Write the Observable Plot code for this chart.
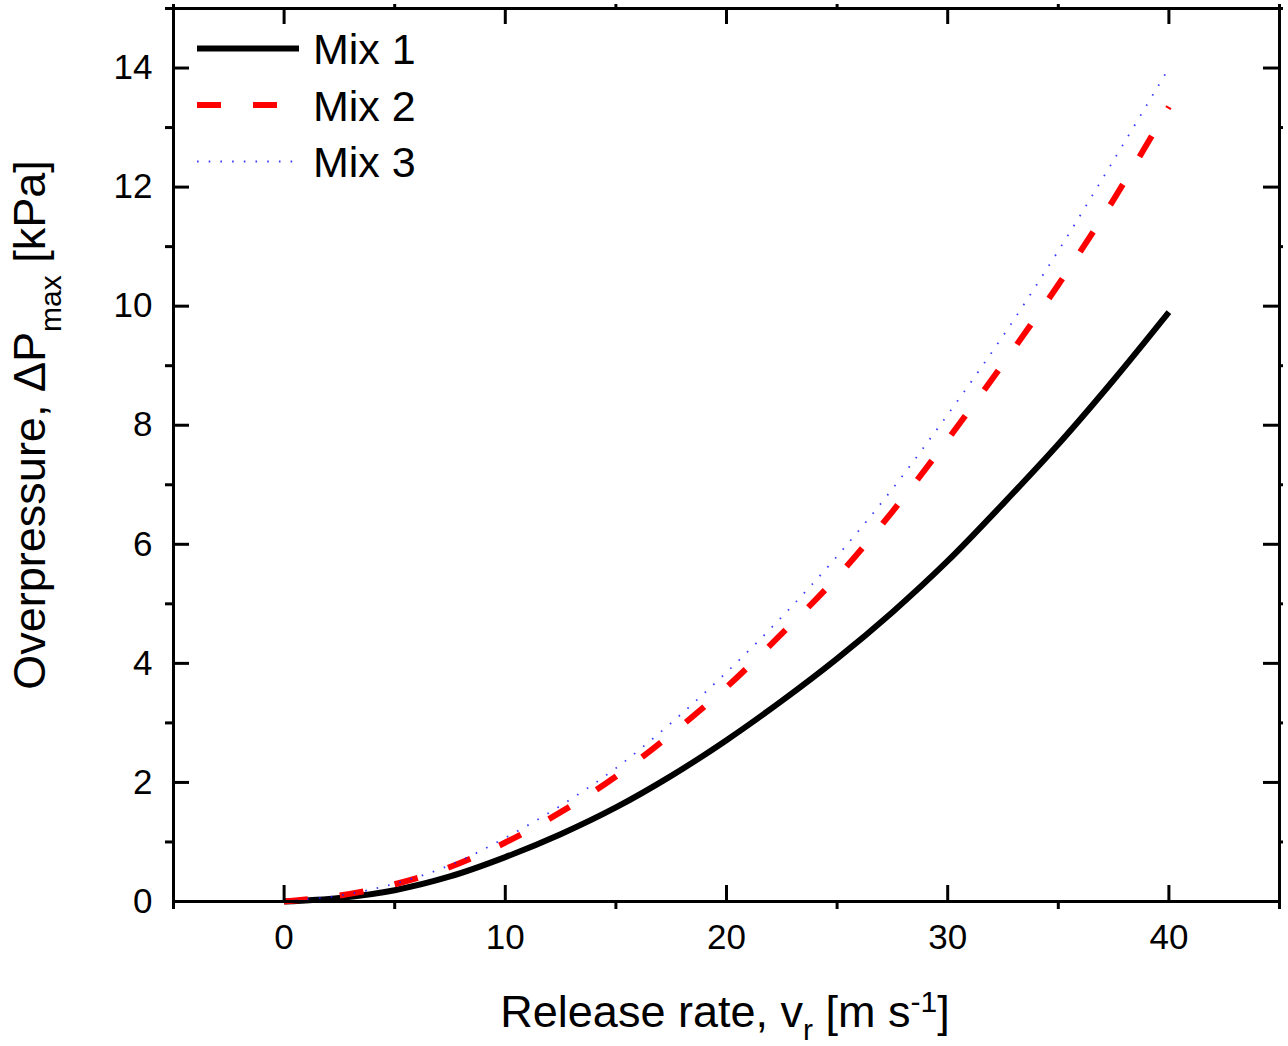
<!DOCTYPE html>
<html>
<head>
<meta charset="utf-8">
<script src="https://cdn.jsdelivr.net/npm/d3@7"></script>
<script src="https://cdn.jsdelivr.net/npm/@observablehq/plot@0.6"></script>
<style>
  html, body { margin: 0; padding: 0; background: #fff; }
  #chart { width: 1288px; height: 1046px; }
</style>
</head>
<body>
<div id="chart"></div>
<script>
// ---- data ----
const releaseRate = [0, 2.5, 5, 7.5, 10, 12.5, 15, 17.5, 20, 22.5, 25, 27.5, 30, 32.5, 35, 37.5, 40];
const mix1 = [0, 0.06, 0.19, 0.42, 0.745, 1.13, 1.58, 2.11, 2.71, 3.37, 4.08, 4.86, 5.72, 6.68, 7.68, 8.76, 9.90];
const mix2 = [0, 0.10, 0.29, 0.58, 0.99, 1.50, 2.10, 2.81, 3.60, 4.50, 5.45, 6.55, 7.76, 9.03, 10.36, 11.79, 13.35];
const mix3 = [0, 0.10, 0.30, 0.61, 1.07, 1.61, 2.24, 3.00, 3.85, 4.78, 5.80, 6.93, 8.18, 9.50, 10.93, 12.45, 14.00];
const seriesNames = ["Mix 1", "Mix 2", "Mix 3"];
const xMajorTicks = [0, 10, 20, 30, 40];
const xMinorTicks = [-5, 5, 15, 25, 35, 45];
const yMajorTicks = [0, 2, 4, 6, 8, 10, 12, 14];
const yMinorTicks = [1, 3, 5, 7, 9, 11, 13, 15];
const xDomain = [-5, 45];
const yDomain = [0, 15];

// ---- styles ----
const seriesStyle = [
  {stroke: "#000000", strokeWidth: 6, dash: null, opacity: 1},
  {stroke: "#ff0000", strokeWidth: 6, dash: "24,32", opacity: 1},
  {stroke: "#1a1aff", strokeWidth: 1.8, dash: "1.6,10.1", opacity: 0.85}
];
const FONT = "'Liberation Sans', Arial, Helvetica, sans-serif";
const W = 1288, H = 1046, mL = 173, mR = 9, mT = 8, mB = 145;
const innerW = W - mL - mR, innerH = H - mT - mB;
const majorLen = 16, minorLen = 8, minorLenOuter2 = 4, axisW = 3;

const seriesValues = [mix1, mix2, mix3];
const tables = seriesValues.map((vals, s) =>
  releaseRate.map((v, i) => ({v, p: vals[i], series: seriesNames[s]})));

const lineMarks = tables.map((t, s) => Plot.line(t, {
  x: "v", y: "p",
  stroke: seriesStyle[s].stroke,
  strokeWidth: seriesStyle[s].strokeWidth,
  strokeDasharray: seriesStyle[s].dash,
  strokeOpacity: seriesStyle[s].opacity,
  strokeLinecap: "butt",
  curve: "catmull-rom"
}));

const tickStyle = {stroke: "black", strokeWidth: axisW};

const chart = Plot.plot({
  width: W, height: H,
  marginLeft: mL, marginRight: mR, marginTop: mT, marginBottom: mB,
  style: {fontFamily: FONT, fontSize: "35px", color: "black", background: "white", overflow: "visible"},
  x: {domain: xDomain},
  y: {domain: yDomain},
  marks: [
    ...lineMarks,
    // bottom / top x ticks
    Plot.tickX(xMajorTicks, {x: d => d, insetTop: innerH - majorLen, ...tickStyle}),
    Plot.tickX(xMajorTicks, {x: d => d, insetBottom: innerH - majorLen, ...tickStyle}),
    Plot.tickX(xMinorTicks, {x: d => d, insetTop: innerH, insetBottom: -minorLen, ...tickStyle}),
    Plot.tickX(xMinorTicks, {x: d => d, insetTop: -minorLenOuter2, insetBottom: innerH, ...tickStyle}),
    // left / right y ticks
    Plot.tickY(yMajorTicks, {y: d => d, insetRight: innerW - majorLen, ...tickStyle}),
    Plot.tickY(yMajorTicks, {y: d => d, insetLeft: innerW - majorLen, ...tickStyle}),
    Plot.tickY(yMinorTicks, {y: d => d, insetRight: innerW, insetLeft: -minorLen, ...tickStyle}),
    Plot.tickY(yMinorTicks, {y: d => d, insetLeft: innerW, insetRight: -minorLenOuter2, ...tickStyle}),
    Plot.frame({stroke: "black", strokeWidth: axisW}),
    Plot.axisX({ticks: xMajorTicks, tickSize: 0, tickPadding: 23, label: null, fontSize: 35, tickFormat: d => String(d)}),
    Plot.axisY({ticks: yMajorTicks, tickSize: 0, tickPadding: 21, label: null, fontSize: 35, tickFormat: d => String(d)})
  ]
});

document.getElementById("chart").appendChild(chart);

// ---- axis titles with sub/superscripts ----
const svg = d3.select(chart);
const xt = svg.append("text")
  .attr("x", 725).attr("y", 1027)
  .attr("text-anchor", "middle")
  .attr("font-family", FONT).attr("font-size", 45).attr("fill", "black");
xt.append("tspan").text("Release rate, v");
xt.append("tspan").attr("font-size", 30).attr("dy", 13).text("r");
xt.append("tspan").attr("dy", -13).text(" [m s");
xt.append("tspan").attr("font-size", 30).attr("dy", -15).text("-1");
xt.append("tspan").attr("dy", 15).text("]");

const yt = svg.append("text")
  .attr("transform", "translate(45,425) rotate(-90)")
  .attr("text-anchor", "middle")
  .attr("font-family", FONT).attr("font-size", 45).attr("fill", "black");
yt.append("tspan").text("Overpressure, \u0394P");
yt.append("tspan").attr("font-size", 30).attr("dy", 16).text("max");
yt.append("tspan").attr("dy", -16).text(" [kPa]");

// ---- legend ----
const lg = svg.append("g");
seriesNames.forEach((name, i) => {
  const cy = 48.5 + i * 56.5;
  const st = seriesStyle[i];
  lg.append("line")
    .attr("x1", 197).attr("x2", 299).attr("y1", cy).attr("y2", cy)
    .attr("stroke", st.stroke).attr("stroke-width", st.strokeWidth)
    .attr("stroke-opacity", st.opacity)
    .attr("stroke-dasharray", st.dash);
  lg.append("text")
    .attr("x", 313).attr("y", cy + 15.5)
    .attr("text-anchor", "start")
    .attr("font-family", FONT).attr("font-size", 43).attr("fill", "black")
    .text(name);
});
</script>
</body>
</html>
